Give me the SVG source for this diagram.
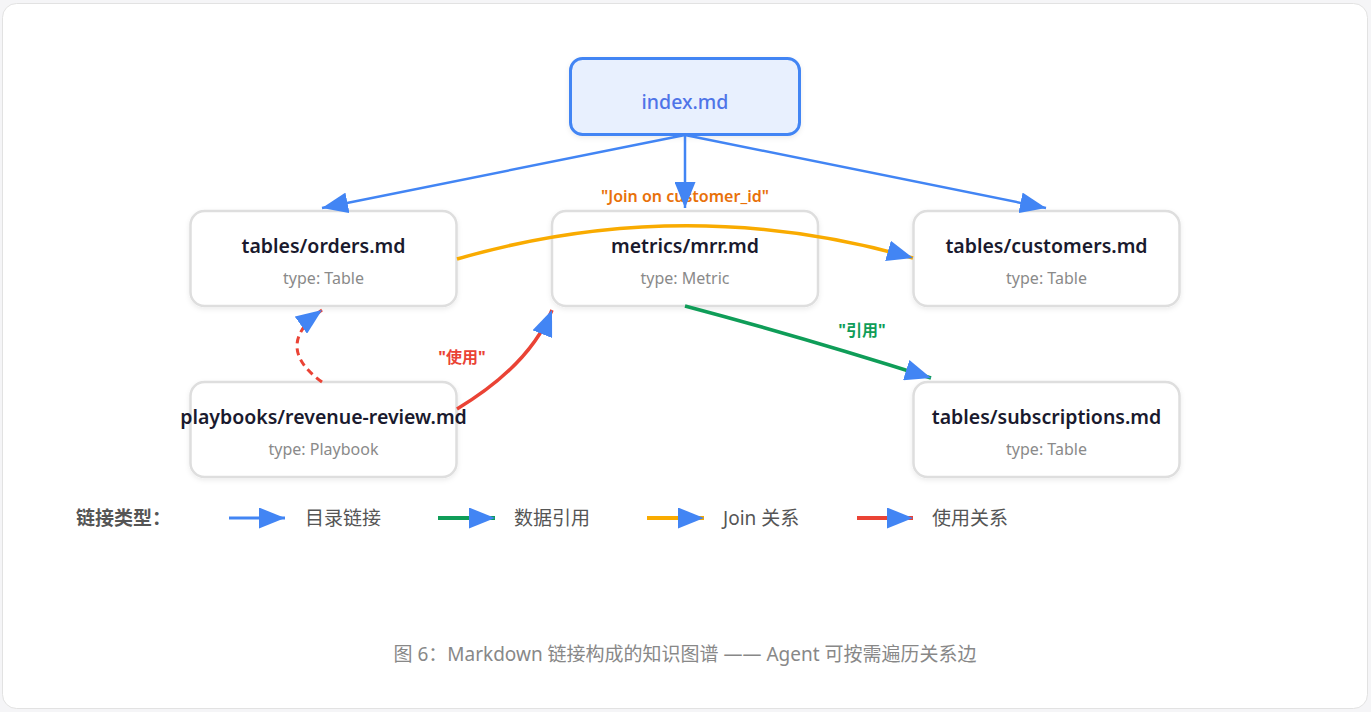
<svg xmlns="http://www.w3.org/2000/svg" width="1371" height="712" viewBox="0 0 1371 712">
<style>
text{font-family:"Noto Sans","Noto Sans CJK SC",sans-serif}
.card{fill:#fff;stroke:#dedede;stroke-width:2.5}
.title{font-size:19.5px;font-weight:600;fill:#1a1a2e;text-anchor:middle}
.sub{font-size:16px;fill:#8a8a8a;text-anchor:middle}
.leg{font-size:19px;fill:#555}
.e{fill:none}
</style>
<defs>
<filter id="sh" x="-10%" y="-10%" width="120%" height="130%">
<feDropShadow dx="0" dy="2" stdDeviation="2.5" flood-color="#000" flood-opacity="0.08"/>
</filter>
<marker id="ah" markerUnits="userSpaceOnUse" markerWidth="27" markerHeight="21" refX="26" refY="10.5" orient="auto">
<path d="M0,0 L26,10.5 L0,21 Z" fill="#4285f4"/>
</marker>
</defs>
<rect x="0" y="0" width="1371" height="712" fill="#f5f5f7"/>
<rect x="2.5" y="3.5" width="1365" height="705" rx="14" fill="#fff" stroke="#e2e2e2" stroke-width="1"/>

<g id="node-index">
<rect x="570.5" y="58.5" width="229" height="76" rx="12" fill="#e8f0fe" stroke="#4285f4" stroke-width="3" filter="url(#sh)"/>
<text x="685" y="109" font-size="19.5" font-weight="500" fill="#4f74e8" text-anchor="middle">index.md</text>
</g>
<g id="node-orders">
<rect class="card" x="190.5" y="211" width="266" height="95" rx="14" filter="url(#sh)"/>
<text class="title" x="323.5" y="253">tables/orders.md</text>
<text class="sub" x="323.5" y="284">type: Table</text>
</g>
<g id="node-mrr">
<rect class="card" x="552" y="211" width="266" height="95" rx="14" filter="url(#sh)"/>
<text class="title" x="685" y="253">metrics/mrr.md</text>
<text class="sub" x="685" y="284">type: Metric</text>
</g>
<g id="node-customers">
<rect class="card" x="913.5" y="211" width="266" height="95" rx="14" filter="url(#sh)"/>
<text class="title" x="1046.5" y="253">tables/customers.md</text>
<text class="sub" x="1046.5" y="284">type: Table</text>
</g>
<g id="node-playbook">
<rect class="card" x="190.5" y="382" width="266" height="95" rx="14" filter="url(#sh)"/>
<text class="title" x="323.5" y="424">playbooks/revenue-review.md</text>
<text class="sub" x="323.5" y="455">type: Playbook</text>
</g>
<g id="node-subscriptions">
<rect class="card" x="913.5" y="382" width="266" height="95" rx="14" filter="url(#sh)"/>
<text class="title" x="1046.5" y="424">tables/subscriptions.md</text>
<text class="sub" x="1046.5" y="455">type: Table</text>
</g>

<g id="connectors">
<text x="685" y="202" font-size="16" font-weight="600" fill="#e8710a" text-anchor="middle">"Join on customer_id"</text>
<text x="862" y="336" font-size="16" font-weight="700" fill="#0f9d58" text-anchor="middle">"引用"</text>
<text x="462" y="363" font-size="16" font-weight="700" fill="#ea4335" text-anchor="middle">"使用"</text>
<path class="e" d="M685,135 L322,208" stroke="#4285f4" stroke-width="2.5" marker-end="url(#ah)"/>
<path class="e" d="M685,135 L685,208" stroke="#4285f4" stroke-width="2.5" marker-end="url(#ah)"/>
<path class="e" d="M685,135 L1046,208" stroke="#4285f4" stroke-width="2.5" marker-end="url(#ah)"/>
<path class="e" d="M457,259 Q685,193 913,258" stroke="#f9ab00" stroke-width="3.5" marker-end="url(#ah)"/>
<path class="e" d="M685,306 Q802,337 931,378" stroke="#0f9d58" stroke-width="3.5" marker-end="url(#ah)"/>
<path class="e" d="M457,409 Q530,365 552,310" stroke="#ea4335" stroke-width="3.5" marker-end="url(#ah)"/>
<path class="e" d="M322,382 Q272,346 322,310" stroke="#ea4335" stroke-width="3" stroke-dasharray="7,5" marker-end="url(#ah)"/>
</g>

<g id="legend">
<text x="76" y="525" font-size="19" font-weight="700" fill="#555">链接类型：</text>
<path d="M229,518 L285,518" stroke="#4285f4" stroke-width="3" marker-end="url(#ah)"/>
<text class="leg" x="305" y="525">目录链接</text>
<path d="M438,518 L495,518" stroke="#0f9d58" stroke-width="4" marker-end="url(#ah)"/>
<text class="leg" x="514" y="525">数据引用</text>
<path d="M647,518 L704,518" stroke="#f9ab00" stroke-width="4" marker-end="url(#ah)"/>
<text class="leg" x="723" y="525">Join 关系</text>
<path d="M857,518 L913,518" stroke="#ea4335" stroke-width="4" marker-end="url(#ah)"/>
<text class="leg" x="932" y="525">使用关系</text>
</g>

<text x="685" y="661" font-size="19" fill="#888" text-anchor="middle">图 6：Markdown 链接构成的知识图谱 —— Agent 可按需遍历关系边</text>
</svg>
